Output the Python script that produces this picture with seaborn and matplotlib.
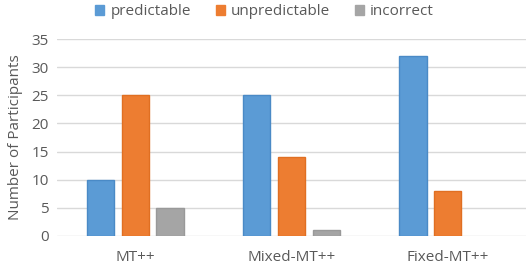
import matplotlib
matplotlib.use("Agg")
import matplotlib.pyplot as plt
import seaborn as sns
import pandas as pd
from matplotlib.patches import Patch

categories = ["MT++", "Mixed-MT++", "Fixed-MT++"]
series = ["predictable", "unpredictable", "incorrect"]
predictable = [10, 25, 32]
unpredictable = [25, 14, 8]
incorrect = [5, 1, 0]
colors = ["#5B9BD5", "#ED7D31", "#A5A5A5"]
edges = ["#4A8AC6", "#E06F22", "#999999"]

rows = []
for s, vals in zip(series, [predictable, unpredictable, incorrect]):
    for c, v in zip(categories, vals):
        rows.append({"category": c, "series": s, "value": v})
df = pd.DataFrame(rows)

sns.set_theme(style="white")
plt.rcParams["font.family"] = ["Open Sans", "DejaVu Sans"]

fig = plt.figure(figsize=(5.29, 2.67), dpi=100)
ax = fig.add_axes([0.108, 0.117, 0.886, 0.736])

sns.barplot(data=df, x="category", y="value", hue="series", order=categories,
            hue_order=series, palette=colors, width=0.667, gap=0.22,
            ax=ax, legend=False, linewidth=1, saturation=1)
for i, cont in enumerate(ax.containers):
    for p in cont:
        p.set_edgecolor(edges[i])
        if p.get_height() == 0:
            p.set_linewidth(0)

ax.set_ylim(0, 35)
ax.set_xlim(-0.5, 2.5)
ax.set_yticks(range(0, 36, 5))
ax.yaxis.grid(True, color="#D9D9D9", linewidth=1)
ax.set_axisbelow(True)
for sp in ax.spines.values():
    sp.set_visible(False)
ax.tick_params(axis="both", length=0, labelsize=11, colors="#595959", pad=6)
ax.tick_params(axis="x", pad=10)
ax.set_xlabel("")
ax.set_ylabel("Number of Participants", fontsize=11, color="#595959", labelpad=6)

handles = [Patch(facecolor=c, edgecolor=c) for c in colors]
fig.legend(handles, series, loc="upper center", bbox_to_anchor=(0.5, 1.035), ncol=3,
           frameon=False, fontsize=11, handlelength=0.6, handleheight=0.6,
           handletextpad=0.4, columnspacing=1.6, labelcolor="#595959")

fig.savefig("out.png", dpi=100)
